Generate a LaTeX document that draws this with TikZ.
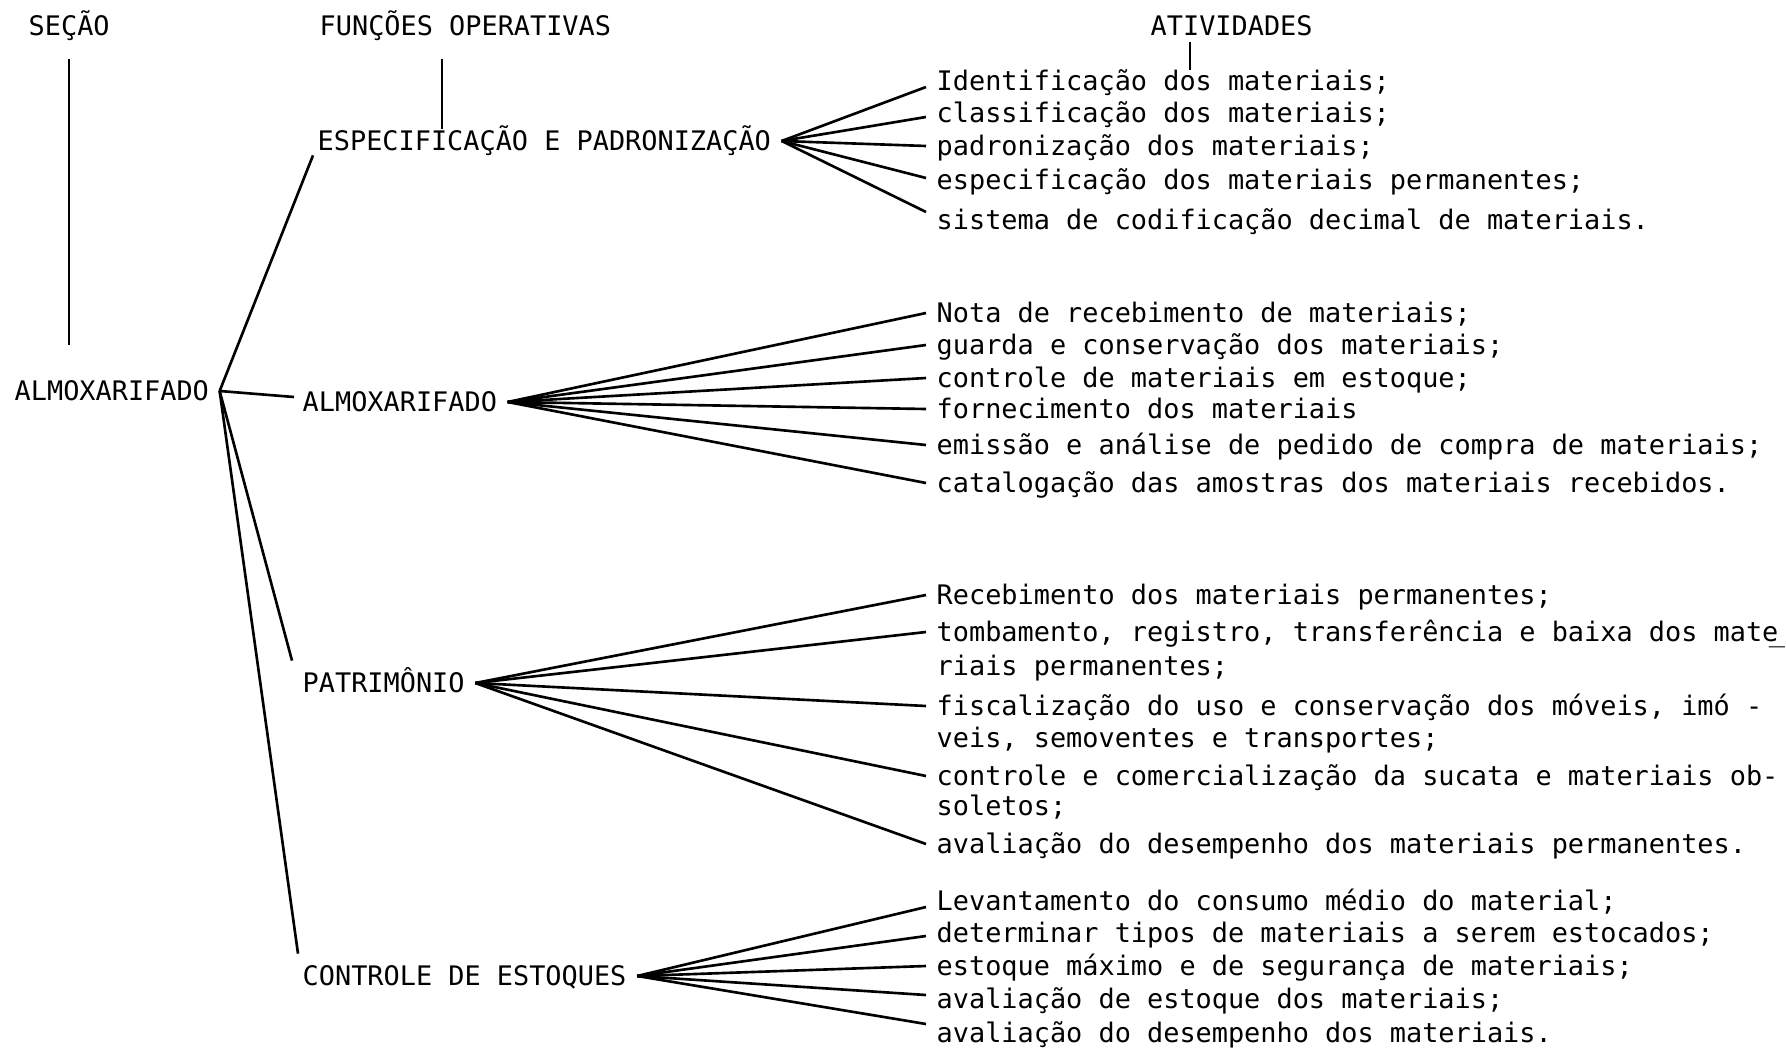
\documentclass[tikz,border=0pt]{standalone}
\usepackage{fontspec}
\setmainfont{DejaVu Sans Mono}
\tikzset{texto/.style={font=\fontsize{7.65pt}{9pt}\selectfont,
        inner xsep=1mm, inner ysep=0.5mm, text height=0.75em, text depth=0.2em,
        anchor=west},
    ramo/.style={line width=0.75pt}
}

\begin{document}
\begin{tikzpicture}[x=0.1mm,y=-0.1mm]
      \useasboundingbox (0,0) rectangle (1786,1047);

      % cabecalhos
      \node[texto] (sec) at (18,26) {SEÇÃO};
      \node[texto] (func) at (309,26) {FUNÇÕES OPERATIVAS};
      \node[texto] (ativ) at (1140,26) {ATIVIDADES};
      \coordinate (secTop) at (69,59);
      \coordinate (secEnd) at (69,345);
      \coordinate (funcTop) at (442,59);
      \coordinate (ativTop) at (1190,42);

      % secao e funcoes
      \node[texto] (root) at (4,391) {ALMOXARIFADO};
      \node[texto] (espec) at (307,141) {ESPECIFICAÇÃO E PADRONIZAÇÃO};
      \node[texto] (almox) at (292,402) {ALMOXARIFADO};
      \node[texto] (patr) at (292,683) {PATRIMÔNIO};
      \node[texto] (estoq) at (292,976) {CONTROLE DE ESTOQUES};

      \draw[ramo] (secTop) -- (secEnd);
      \draw[ramo] (funcTop) -- ([yshift=-3pt]funcTop |- espec.north);

      \draw[ramo] (root.east) -- ([shift={(6,-8)}]espec.south west);
      \draw[ramo] (root.east) -- ([shift={(2,-5)}]almox.west);
      \draw[ramo] (root.east) -- (patr.north west);
      \draw[ramo] (root.east) -- ([shift={(6,0)}]estoq.north west);

      % atividades
      \node[texto] (e1) at (926,81) {Identificação dos materiais;};
      \node[texto] (e2) at (926,113) {classificação dos materiais;};
      \node[texto] (e3) at (926,146) {padronização dos materiais;};
      \node[texto] (e4) at (926,180) {especificação dos materiais permanentes;};
      \node[texto] (e5) at (926,220) {sistema de codificação decimal de materiais.};
      \draw[ramo] (ativTop) -- ([yshift=-3.2pt]ativTop |- e1.north);
      \draw[ramo] (espec.east) -- ([shift={(0,6)}]e1.west);
      \draw[ramo] (espec.east) -- ([shift={(0,4)}]e2.west);
      \draw[ramo] (espec.east) -- (e3.west);
      \draw[ramo] (espec.east) -- ([shift={(0,-2)}]e4.west);
      \draw[ramo] (espec.east) -- ([shift={(0,-8)}]e5.west);

      \node[texto] (a1) at (926,313) {Nota de recebimento de materiais;};
      \node[texto] (a2) at (926,345) {guarda e conservação dos materiais;};
      \node[texto] (a3) at (926,378) {controle de materiais em estoque;};
      \node[texto] (a4) at (926,409) {fornecimento dos materiais};
      \node[texto] (a5) at (926,445) {emissão e análise de pedido de compra de materiais;};
      \node[texto] (a6) at (926,483) {catalogação das amostras dos materiais recebidos.};
      \draw[ramo] (almox.east) -- (a1.west);
      \draw[ramo] (almox.east) -- (a2.west);
      \draw[ramo] (almox.east) -- (a3.west);
      \draw[ramo] (almox.east) -- (a4.west);
      \draw[ramo] (almox.east) -- (a5.west);
      \draw[ramo] (almox.east) -- (a6.west);

      \node[texto] (p1) at (926,595) {Recebimento dos materiais permanentes;};
      \node[texto] (p2) at (926,632) {tombamento, registro, transferência e baixa dos mate\kern-0.35em\_};
      \node[texto] (p2b) at (926,666) {riais permanentes;};
      \node[texto] (p3) at (926,706) {fiscalização do uso e conservação dos móveis, imó -};
      \node[texto] (p3b) at (926,738) {veis, semoventes e transportes;};
      \node[texto] (p4) at (926,776) {controle e comercialização da sucata e materiais ob-};
      \node[texto] (p4b) at (926,806) {soletos;};
      \node[texto] (p5) at (926,844) {avaliação do desempenho dos materiais permanentes.};
      \draw[ramo] (patr.east) -- (p1.west);
      \draw[ramo] (patr.east) -- (p2.west);
      \draw[ramo] (patr.east) -- (p3.west);
      \draw[ramo] (patr.east) -- (p4.west);
      \draw[ramo] (patr.east) -- (p5.west);

      \node[texto] (c1) at (926,901) {Levantamento do consumo médio do material;};
      \node[texto] (c2) at (926,933) {determinar tipos de materiais a serem estocados;};
      \node[texto] (c3) at (926,966) {estoque máximo e de segurança de materiais;};
      \node[texto] (c4) at (926,999) {avaliação de estoque dos materiais;};
      \node[texto] (c5) at (926,1033) {avaliação do desempenho dos materiais.};
      \draw[ramo] (estoq.east) -- ([shift={(0,6)}]c1.west);
      \draw[ramo] (estoq.east) -- ([shift={(0,3)}]c2.west);
      \draw[ramo] (estoq.east) -- (c3.west);
      \draw[ramo] (estoq.east) -- ([shift={(0,-4)}]c4.west);
      \draw[ramo] (estoq.east) -- ([shift={(0,-9)}]c5.west);
    \end{tikzpicture}
\end{document}
